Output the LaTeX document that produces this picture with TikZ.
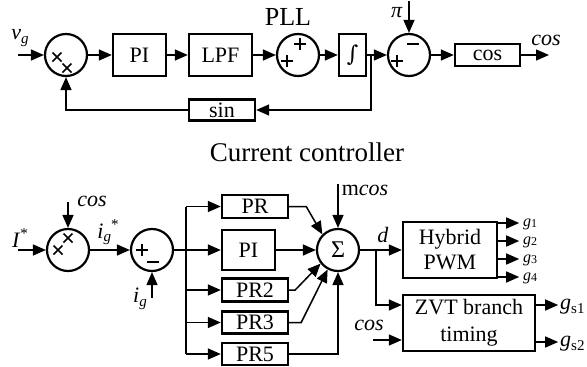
\documentclass[tikz,border=0pt]{standalone}
\usepackage{fontspec}
\setmainfont{Liberation Serif}
\newfontfamily\dvs{DejaVu Serif}
\usetikzlibrary{arrows.meta,calc}
\newcommand{\fsz}[1]{\fontsize{#1}{#1}\selectfont}
\newcommand{\lsub}[1]{\raisebox{-0.35ex}{\fontsize{15}{15}\selectfont #1}}
\newcommand{\lsup}[1]{\raisebox{0.9ex}{\fontsize{15}{15}\selectfont #1}}
\newcommand{\gsub}[1]{\raisebox{-0.15ex}{\fontsize{12}{12}\selectfont #1}}
\newcommand{\xsym}[2]{\draw[sym] (#1-4.5,#2-4.5) -- (#1+4.5,#2+4.5) (#1-4.5,#2+4.5) -- (#1+4.5,#2-4.5);}
\newcommand{\psym}[2]{\draw[sym] (#1-6,#2) -- (#1+6,#2) (#1,#2-6) -- (#1,#2+6);}
\newcommand{\msym}[2]{\draw[sym] (#1-6,#2) -- (#1+6,#2);}
\begin{document}
\begin{tikzpicture}[x=1pt,y=-1pt,
 blk/.style={draw, line width=2.4pt, inner sep=0pt, font=\fsz{22}, align=center},
 sumc/.style={circle, draw, line width=2.2pt, minimum size=42pt, inner sep=0pt},
 conn/.style={line width=1.5pt},
 arr/.style={conn, -{Triangle[length=13pt,width=11pt]}},
 sym/.style={line width=1.6pt},
 lab/.style={inner sep=0pt, font=\fsz{22}},
 glab/.style={inner sep=0pt, anchor=west, font=\fsz{16}},
 ttl/.style={inner sep=0pt},
]
\useasboundingbox (0,0) rectangle (587,367);

% ---------- PLL ----------
\node[ttl, font=\fsz{26}] (pll) at (288,17) {PLL};
\node[sumc] (mul1) at (66,55) {};
\node[blk, minimum width=53pt, minimum height=42pt] (pi1) at (139.5,55) {PI};
\node[blk, minimum width=63pt, minimum height=42pt] (lpf) at (220.5,55) {LPF};
\node[sumc] (sum1) at (298,55) {};
\node[blk, minimum width=27pt, minimum height=42pt, font=\dvs\fsz{22}] (intb) at (352.5,55) {∫};
\node[sumc] (sub1) at (409,55) {};
\node[blk, minimum width=65pt, minimum height=22pt] (cosb) at (487.5,55) {cos};
\node[blk, minimum width=66pt, minimum height=21pt] (sinb) at (222,110) {sin};

\begin{scope}[shift={(mul1)}] \xsym{-9}{2} \xsym{1}{13} \end{scope}
\begin{scope}[shift={(sum1)}] \psym{-11}{6} \psym{2}{-11} \end{scope}
\begin{scope}[shift={(sub1)}] \psym{-12}{6} \msym{4}{-11} \end{scope}

\coordinate (vgin) at (18,55);
\coordinate (piin) at (409,1);
\coordinate (cosout) at (549,55);
\coordinate (br1) at ($(intb.east)+(4,0)$);

\node[lab] (vg) at (20,38) {\textit{v}\lsub{\textit{g}}};
\node[lab] (pil) at (397,13) {\textit{π}};
\node[lab] (cosl) at (546,40) {\textit{cos}};

\draw[arr] (vgin) -- (mul1.west);
\draw[arr] (mul1.east) -- (pi1.west);
\draw[arr] (pi1.east) -- (lpf.west);
\draw[arr] (lpf.east) -- (sum1.west);
\draw[arr] (sum1.east) -- (intb.west);
\draw[arr] (intb.east) -- (sub1.west);
\draw[arr] (piin) -- (sub1.north);
\draw[arr] (sub1.east) -- (cosb.west);
\draw[arr] (cosb.east) -- (cosout);
\draw[arr] (br1) |- (sinb.east);
\draw[arr] (sinb.west) -| (mul1.south);

% ---------- Current controller ----------
\node[ttl, font=\fsz{27}] (cc) at (307,152) {Current controller};
\node[sumc] (mul2) at (68,250) {};
\node[sumc] (sum2) at (152,250) {};
\node[blk, minimum width=66pt, minimum height=23pt] (pr) at (255,206.5) {PR};
\node[blk, minimum width=53pt, minimum height=40pt] (pi2) at (248.5,250) {PI};
\node[blk, minimum width=66pt, minimum height=23pt] (pr2) at (255,290) {PR2};
\node[blk, minimum width=66pt, minimum height=22pt] (pr3) at (255,322.5) {PR3};
\node[blk, minimum width=66pt, minimum height=22pt] (pr5) at (255,354) {PR5};
\node[sumc, font=\fsz{24}] (sig) at (338,250) {Σ};
\node[blk, minimum width=94pt, minimum height=56pt, font=\fontsize{22}{25}\selectfont] (hyb) at (450,250) {Hybrid\\PWM};
\node[blk, minimum width=132pt, minimum height=56pt, font=\fontsize{22}{27}\selectfont] (zvt) at (469,323) {ZVT branch\\timing};

\begin{scope}[shift={(mul2)}] \xsym{0}{-12} \xsym{-10}{0} \end{scope}
\begin{scope}[shift={(sum2)}] \psym{-10}{0} \msym{1}{12} \end{scope}

\coordinate (iin) at (18,250);
\coordinate (c2in) at (68,202);
\coordinate (igin) at (152,298);
\coordinate (mcin) at (338,184);
\coordinate (b2) at ($(sum2.east)+(12,0)$);
\coordinate (bd) at ($(sig.east)+(16,0)$);
\coordinate (czin) at (373,340);

\node[lab] (il) at (20,238) {\textit{I}\lsup{*}};
\node[lab] (c2l) at (92,201) {\textit{cos}};
\node[lab] (igsl) at (108,232) {\textit{i}\lsub{\textit{g}}\lsup{*}};
\node[lab] (igl) at (140,299) {\textit{i}\lsub{\textit{g}}};
\node[lab] (mcl) at (365,190) {m\textit{cos}};
\node[lab] (dl) at (383,235) {\textit{d}};
\node[lab] (czl) at (369,325) {\textit{cos}};
\node[glab] (g1) at (523,224) {\textit{g}\gsub{1}};
\node[glab] (g2) at (523,242) {\textit{g}\gsub{2}};
\node[glab] (g3) at (523,260) {\textit{g}\gsub{3}};
\node[glab] (g4) at (523,278) {\textit{g}\gsub{4}};
\node[lab, anchor=west] (gs1) at (560,307) {\textit{g}\lsub{s1}};
\node[lab, anchor=west] (gs2) at (560,344) {\textit{g}\lsub{s2}};

\draw[arr] (iin) -- (mul2.west);
\draw[arr] (c2in) -- (mul2.north);
\draw[arr] (mul2.east) -- (sum2.west);
\draw[arr] (igin) -- (sum2.south);
\draw[conn] (sum2.east) -- (b2);
\draw[conn] (b2 |- pr.west) -- (b2 |- pr5.west);
\draw[arr] (b2 |- pr.west) -- (pr.west);
\draw[arr] (b2) -- (pi2.west);
\draw[arr] (b2 |- pr2.west) -- (pr2.west);
\draw[arr] (b2 |- pr3.west) -- (pr3.west);
\draw[arr] (b2 |- pr5.west) -- (pr5.west);

\draw[arr] (pr.east) -- ++(17,0) -- (sig.135);
\draw[arr] (pi2.east) -- (sig.west);
\draw[arr] (pr2.east) -- ++(6,0) -- (sig.218);
\draw[arr] (pr3.east) -- ++(12,0) -- (sig.242);
\draw[arr] (pr5.east) -| (sig.south);
\draw[arr] (mcin) -- (sig.north);

\draw[arr] (sig.east) -- (hyb.west);
\draw[arr] (bd) |- ([yshift=18pt]zvt.west);
\draw[arr] (czin) -- ([yshift=-17pt]zvt.west);

\draw[arr] ([yshift=27pt]hyb.east) -- ++(21,0);
\draw[arr] ([yshift=9pt]hyb.east) -- ++(21,0);
\draw[arr] ([yshift=-9pt]hyb.east) -- ++(21,0);
\draw[arr] ([yshift=-27pt]hyb.east) -- ++(21,0);
\draw[arr] ([yshift=18pt]zvt.east) -- ++(22,0);
\draw[arr] ([yshift=-19pt]zvt.east) -- ++(22,0);
\end{tikzpicture}
\end{document}
